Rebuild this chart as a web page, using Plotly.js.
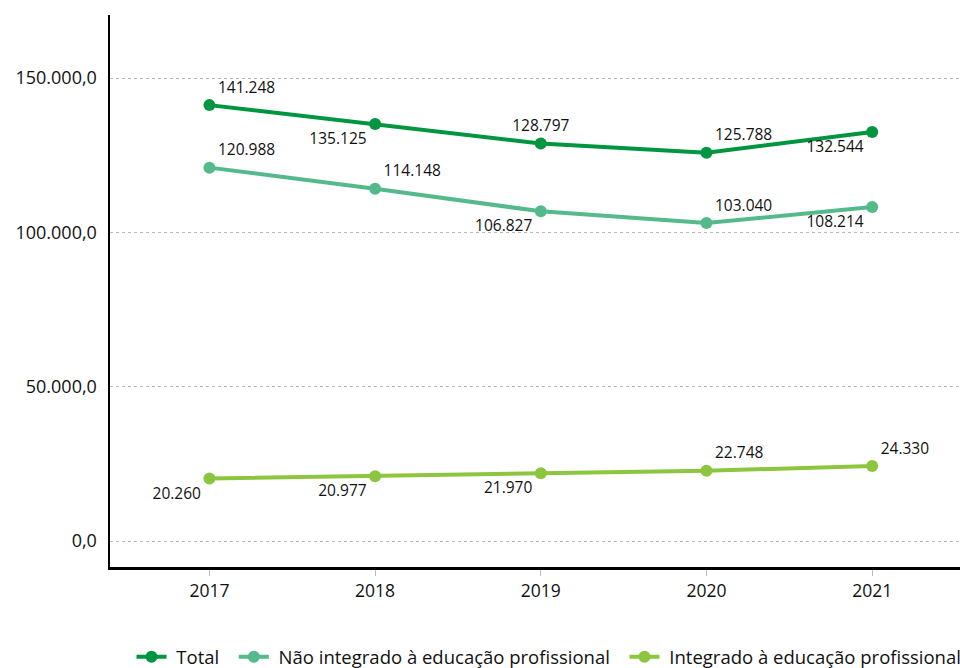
<!DOCTYPE html>
<html>
<head>
<meta charset="utf-8">
<script src="https://cdn.plot.ly/plotly-3.0.1.min.js"></script>
<style>html,body{margin:0;padding:0;background:#fff;}#chart{width:960px;height:668px;}</style>
</head>
<body>
<div id="chart"></div>
<script>
const years = ['2017', '2018', '2019', '2020', '2021'];
const total = [141248, 135125, 128797, 125788, 132544];
const naoIntegrado = [120988, 114148, 106827, 103040, 108214];
const integrado = [20260, 20977, 21970, 22748, 24330];
const seriesNames = ['Total', 'Não integrado à educação profissional', 'Integrado à educação profissional'];

function fmt(v) {
  return String(v).replace(/\B(?=(\d{3})+(?!\d))/g, '.');
}
// legend entry padding (non-breaking spaces) to mimic the source spacing
function pad(s) { return '\u00a0' + s + '\u00a0\u00a0'; }

const labelFont = {family: 'Open Sans, sans-serif', size: 15.5, color: '#111'};

function trace(name, y, color, pos) {
  return {
    type: 'scatter', mode: 'lines+markers+text', name: pad(name),
    x: years, y: y,
    text: y.map(fmt), textposition: pos, textfont: labelFont,
    line: {color: color, width: 4},
    marker: {color: color, size: 12},
    hoverinfo: 'x+y', cliponaxis: false
  };
}

const data = [
  trace(seriesNames[0], total, '#00963F',
    ['top right', 'bottom left', 'top center', 'top right', 'bottom left']),
  trace(seriesNames[1], naoIntegrado, '#55BA8B',
    ['top right', 'top right', 'bottom left', 'top right', 'bottom left']),
  trace(seriesNames[2], integrado, '#8CC63F',
    ['bottom left', 'bottom left', 'bottom left', 'top right', 'top right'])
];

const layout = {
  width: 960, height: 668,
  margin: {l: 110, r: 0, t: 15, b: 101},
  paper_bgcolor: '#fff', plot_bgcolor: '#fff',
  separators: ',.',
  font: {family: 'Open Sans, sans-serif', size: 17, color: '#111'},
  showlegend: true,
  legend: {
    orientation: 'h', xref: 'container', yref: 'container',
    x: 0.137, xanchor: 'left', y: 0.016, yanchor: 'middle',
    font: {family: 'Open Sans, sans-serif', size: 18.5, color: '#111'},
    itemwidth: 30, tracegroupgap: 0
  },
  xaxis: {
    type: 'category', range: [-0.6, 4.53],
    showline: true, linecolor: '#000', linewidth: 3,
    ticks: 'outside', ticklen: 6, tickcolor: '#bbb', tickwidth: 1,
    showgrid: false, zeroline: false,
    tickfont: {family: 'Open Sans, sans-serif', size: 17.5, color: '#111'}
  },
  yaxis: {
    range: [-8425, 170450],
    tickvals: [0, 50000, 100000, 150000],
    tickformat: ',.1f',
    showline: true, linecolor: '#000', linewidth: 2.5,
    ticks: '', ticklabelstandoff: 7,
    showgrid: true, gridcolor: '#b8b8b8', griddash: 'dot', gridwidth: 1,
    zeroline: false,
    tickfont: {family: 'Open Sans, sans-serif', size: 18, color: '#111'}
  }
};

Plotly.newPlot('chart', data, layout, {displayModeBar: false, staticPlot: true});
</script>
</body>
</html>
